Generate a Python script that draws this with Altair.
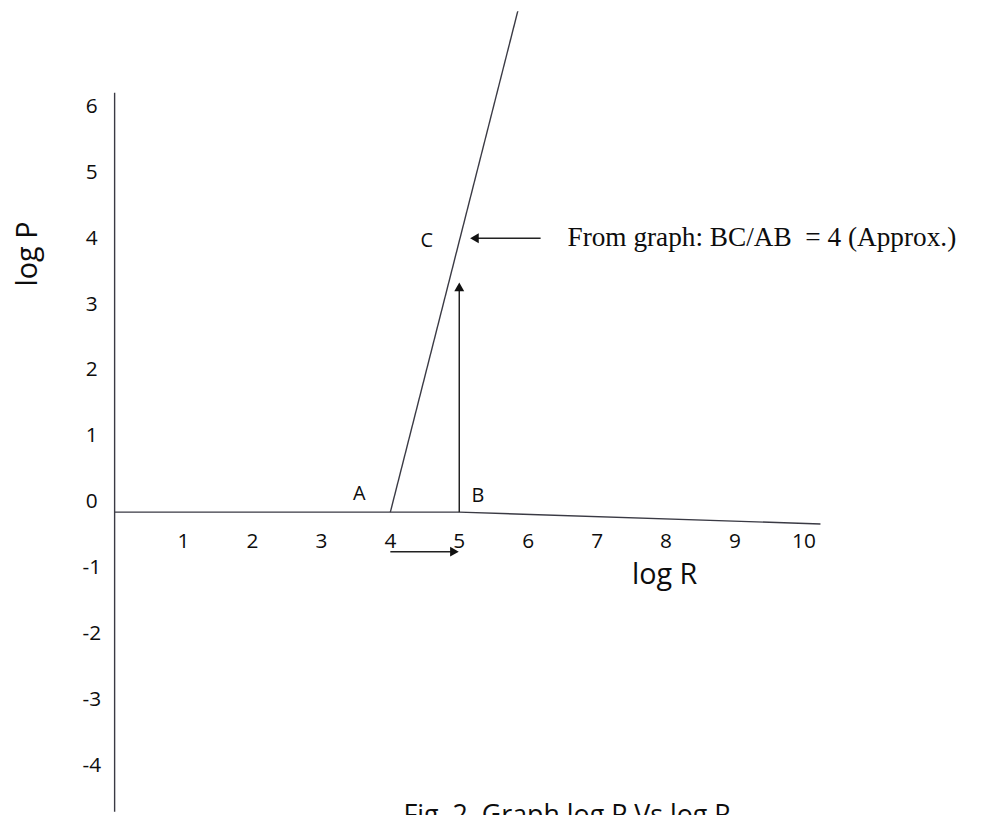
import altair as alt
import pandas as pd

# ---- data ----
x_ticks = [1, 2, 3, 4, 5, 6, 7, 8, 9, 10]
y_ticks = [-4, -3, -2, -1, 0, 1, 2, 3, 4, 5, 6]

# log P vs log R straight line (through A, on to the top edge)
line_x = [4.0, 5.92]
line_y = [0.0, 7.9]

# drawn axes (x axis sags slightly on the right)
xaxis_x = [0.0, 5.0, 10.24]
xaxis_y = [0.0, 0.0, -0.18]
yaxis_x = [0.0, 0.0]
yaxis_y = [6.37, -4.6]

# arrows: (x0, y0) -> (x1, y1)
arrows_x0 = [5.0, 6.18, 4.0]
arrows_y0 = [0.0, 4.16, -0.6]
arrows_x1 = [5.0, 5.22, 4.93]
arrows_y1 = [3.42, 4.16, -0.6]
arrow_shapes = ["triangle-up", "triangle-left", "triangle-right"]

point_labels = ["A", "B", "C"]
point_lx = [3.55, 5.27, 4.53]
point_ly = [0.27, 0.24, 4.12]

note_text = "From graph: BC/AB\u00a0\u00a0= 4 (Approx.)"
note_x, note_y = 6.57, 4.16
xtitle, xtitle_x, xtitle_y = "log R", 7.98, -0.95
ytitle, ytitle_x, ytitle_y = "log P", -1.25, 3.92
caption, caption_x, caption_y = "Fig. 2. Graph log P Vs log R", 4.19, -4.73

# ---- scales ----
W, H = 975, 807
xs = alt.Scale(domain=[-1.5468, 12.482], nice=False, zero=False)
ys = alt.Scale(domain=[-4.549, 7.605], nice=False, zero=False)

def X(f="x"):
    return alt.X(f"{f}:Q", scale=xs, axis=None)

def Y(f="y"):
    return alt.Y(f"{f}:Q", scale=ys, axis=None)

LINE = "#3a3a44"
INK = "#0d0d0d"

xaxis = alt.Chart(pd.DataFrame({"x": xaxis_x, "y": xaxis_y, "o": range(3)})).mark_line(
    color=LINE, strokeWidth=1.4, clip=True).encode(x=X(), y=Y(), order="o:Q")
yaxis = alt.Chart(pd.DataFrame({"x": yaxis_x, "y": yaxis_y})).mark_line(
    color=LINE, strokeWidth=1.4, clip=True).encode(x=X(), y=Y())
cline = alt.Chart(pd.DataFrame({"x": line_x, "y": line_y})).mark_line(
    color=LINE, strokeWidth=1.4, clip=True).encode(x=X(), y=Y())

adf = pd.DataFrame({"x": arrows_x0, "y": arrows_y0, "x2": arrows_x1, "y2": arrows_y1,
                    "shape": arrow_shapes})
shafts = alt.Chart(adf).mark_rule(color="#222", strokeWidth=1.5).encode(
    x=X(), y=Y(), x2="x2:Q", y2="y2:Q")
heads = alt.Chart(adf).mark_point(filled=True, color="#111", size=100, opacity=1).encode(
    x=X("x2"), y=Y("y2"),
    shape=alt.Shape("shape:N", scale=None, legend=None))

xt = alt.Chart(pd.DataFrame({"x": x_ticks, "y": [0] * len(x_ticks), "t": [str(v) for v in x_ticks]})).mark_text(
    font="Open Sans", fontSize=21, color=INK, dy=30, baseline="middle").encode(x=X(), y=Y(), text="t:N")
yt = alt.Chart(pd.DataFrame({"x": [0] * len(y_ticks), "y": y_ticks, "t": [str(v) for v in y_ticks]})).mark_text(
    font="Open Sans", fontSize=21, color=INK, dx=-23, dy=-10, baseline="middle").encode(x=X(), y=Y(), text="t:N")

pl = alt.Chart(pd.DataFrame({"x": point_lx, "y": point_ly, "t": point_labels})).mark_text(
    font="Open Sans", fontSize=20, color=INK, baseline="middle").encode(x=X(), y=Y(), text="t:N")

note = alt.Chart(pd.DataFrame({"x": [note_x], "y": [note_y], "t": [note_text]})).mark_text(
    font="Liberation Serif", fontSize=27.5, color=INK, align="left", baseline="middle").encode(
    x=X(), y=Y(), text="t:N")
xtl = alt.Chart(pd.DataFrame({"x": [xtitle_x], "y": [xtitle_y], "t": [xtitle]})).mark_text(
    font="Open Sans", fontSize=29, color=INK, baseline="middle").encode(x=X(), y=Y(), text="t:N")
ytl = alt.Chart(pd.DataFrame({"x": [ytitle_x], "y": [ytitle_y], "t": [ytitle]})).mark_text(
    font="Open Sans", fontSize=29, color=INK, baseline="middle", angle=270).encode(x=X(), y=Y(), text="t:N")
cap = alt.Chart(pd.DataFrame({"x": [caption_x], "y": [caption_y], "t": [caption]})).mark_text(
    font="Open Sans", fontSize=27, color=INK, align="left", baseline="alphabetic").encode(
    x=X(), y=Y(), text="t:N")

chart = alt.layer(xaxis, yaxis, cline, shafts, heads, xt, yt, pl, note, xtl, ytl, cap).properties(
    width=W, height=H, padding=0, autosize=alt.AutoSizeParams(type="none"),
    background="white",
).configure_view(stroke=None)

chart.save("out.html", embed_options={"renderer": "svg", "actions": False})
